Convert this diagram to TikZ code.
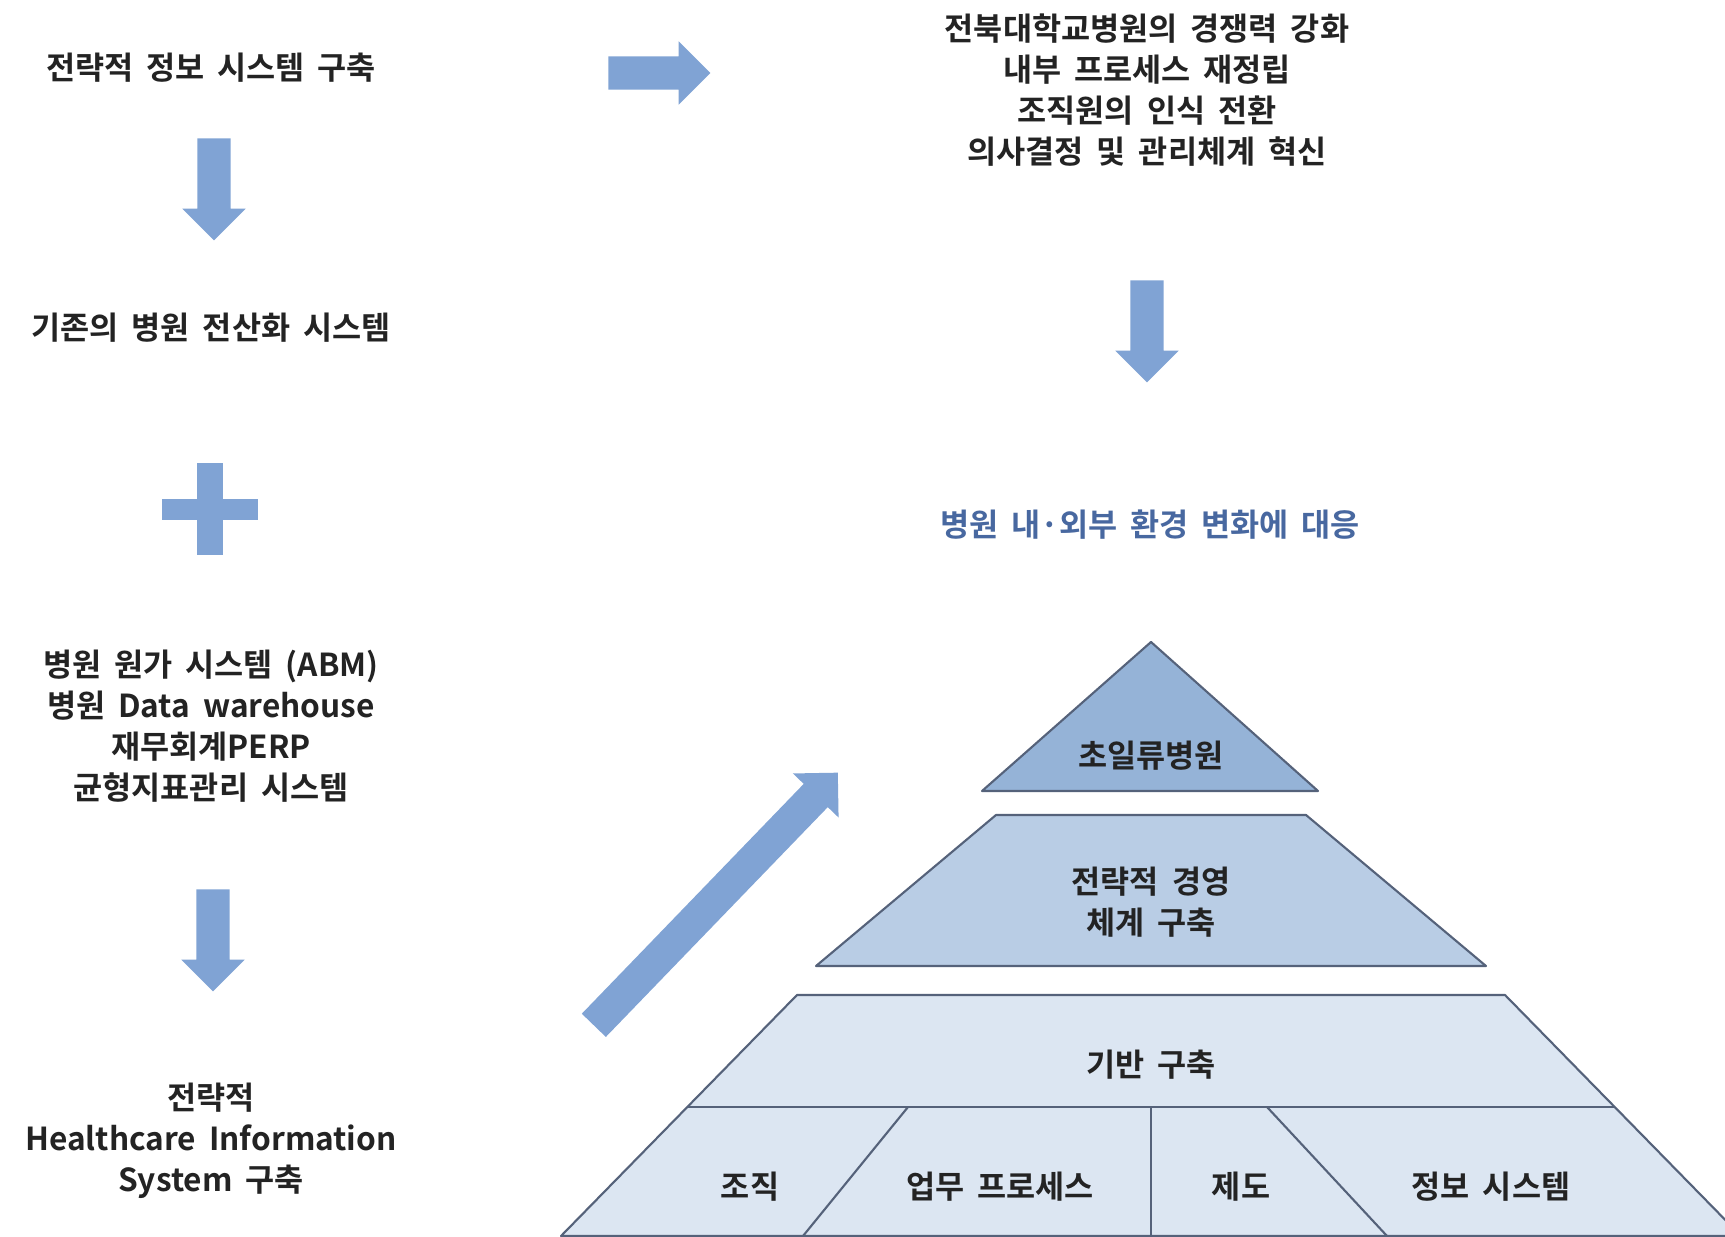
\documentclass[tikz,border=0pt]{standalone}
\usepackage{fontspec}
\setmainfont{Noto Sans CJK KR}[BoldFont={Noto Sans CJK KR Bold},WordSpace=1.8]
\usepackage{tikz}
\usetikzlibrary{shapes.arrows}
\definecolor{arrow_blue}{RGB}{128,163,212}
\definecolor{text_blue}{RGB}{72,104,160}
\definecolor{text_dark}{RGB}{35,35,35}
\definecolor{level_top}{RGB}{149,179,215}
\definecolor{level_mid}{RGB}{185,205,229}
\definecolor{level_low}{RGB}{220,230,242}
\definecolor{edge_dark}{RGB}{85,98,122}

\begin{document}
\begin{tikzpicture}[x=0.01cm,y=-0.01cm]
    \tikzstyle{txt}=[font=\fontsize{9}{11.6}\selectfont\bfseries, text=text_dark, align=center, inner sep=0pt]
    \tikzstyle{blue_txt}=[style=txt, text=text_blue]
    \tikzstyle{big_arrow}=[single arrow, fill=arrow_blue, minimum height=1.02cm, single arrow head extend=0.15cm, inner xsep=0pt, inner ysep=0.16cm, outer sep=0pt]
    \tikzstyle{level}=[draw=edge_dark, line width=0.6pt, line join=round]

    \useasboundingbox (0,0) rectangle (1725,1237);
    \clip (0,0) rectangle (1725,1237);
    \fill[white] (0,0) rectangle (1725,1237);

    % left column
    \node[txt] (info) at (211,68)   {전략적 정보 시스템 구축};
    \node[txt] (old)  at (211,328)  {기존의 병원 전산화 시스템};
    \node[txt] (sys)  at (211,726)  {병원 원가 시스템 (ABM)\\병원 Data warehouse\\재무회계PERP\\균형지표관리 시스템};
    \node[txt] (his)  at (211,1141) {전략적\\Healthcare Information\\System 구축};

    \node[big_arrow, rotate=-90] (down_a) at (214,181) {};
    \node[big_arrow, rotate=-90] (down_b) at (213,932) {};
    \fill[arrow_blue] (197,463) rectangle (223,555);
    \fill[arrow_blue] (162,499) rectangle (258,520);

    % right column
    \node[big_arrow] (right_a) at (651,73) {};
    \node[txt] (goal) at (1147,90) {전북대학교병원의 경쟁력 강화\\내부 프로세스 재정립\\조직원의 인식 전환\\의사결정 및 관리체계 혁신};
    \node[big_arrow, rotate=-90] (down_c) at (1147,323) {};
    \node[blue_txt] (env) at (1150,525) {병원 내·외부 환경 변화에 대응};
    \node[big_arrow, rotate=46, minimum height=3.51cm] (up_a) at (710,905) {};

    % pyramid
    \filldraw[level, fill=level_top] (1151,642) -- (1318,791) -- (982,791) -- cycle;
    \filldraw[level, fill=level_mid] (996,815) -- (1306,815) -- (1486,966) -- (816,966) -- cycle;
    \filldraw[level, fill=level_low] (797,995) -- (1505,995) -- (1741,1236) -- (561,1236) -- cycle;
    \draw[level] (687,1107) -- (1615,1107);
    \draw[level] (908,1107) -- (803,1236);
    \draw[level] (1151,1107) -- (1151,1236);
    \draw[level] (1267,1107) -- (1387,1236);

    \node[txt] (top)  at (1151,756)  {초일류병원};
    \node[txt] (mid)  at (1151,902)  {전략적 경영\\체계 구축};
    \node[txt] (base) at (1151,1065) {기반 구축};
    \node[txt] (org)  at (750,1187)  {조직};
    \node[txt] (proc) at (1000,1187) {업무 프로세스};
    \node[txt] (rule) at (1241,1187) {제도};
    \node[txt] (is)   at (1491,1187) {정보 시스템};
\end{tikzpicture}
\end{document}
